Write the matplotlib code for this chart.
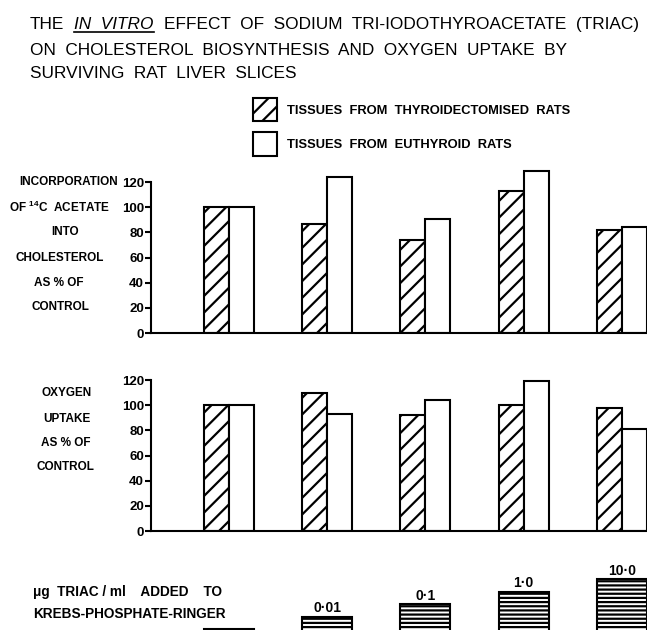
import numpy as np
import matplotlib
matplotlib.use('Agg')
import matplotlib.pyplot as plt
from matplotlib.lines import Line2D

plt.rcParams['font.family'] = ['Liberation Sans', 'DejaVu Sans']
plt.rcParams['hatch.linewidth'] = 1.6
plt.rcParams['mathtext.default'] = 'regular'

# datos
dosis = ['0', '0·01', '0·1', '1·0', '10·0']
dosis_etiquetas = ['', '0·01', '0·1', '1·0', '10·0']
dosis_altura = [1, 2, 3, 4, 5]
col_tiroidect = [100, 87, 74, 113, 82]
col_eutiroideo = [100, 124, 91, 129, 84]
oxi_tiroidect = [100, 110, 92, 100, 98]
oxi_eutiroideo = [100, 93, 104, 119, 81]
yticks = [0, 20, 40, 60, 80, 100, 120]
leyenda = ['TISSUES  FROM  THYROIDECTOMISED  RATS', 'TISSUES  FROM  EUTHYROID  RATS']

W, H = 647, 630
def fx(px):
    return px / W
def fy(py):
    return 1 - py / H

fig = plt.figure(figsize=(W / 100, H / 100), dpi=100)
x = np.arange(len(dosis))
bw = 0.254
lw = 1.5
pxu = 1.257  # pixeles por unidad en el eje y

def panel(base_px, v1, v2):
    ax = fig.add_axes([fx(151), fy(base_px), 1 - fx(151), 135 * pxu / H])
    ax.bar(x - bw / 2, v1, width=bw, facecolor='white', edgecolor='black',
           hatch='//', linewidth=lw, label=leyenda[0])
    ax.bar(x + bw / 2, v2, width=bw, facecolor='white', edgecolor='black',
           linewidth=lw, label=leyenda[1])
    ax.set_xlim(-0.79, 4.254)
    ax.set_ylim(0, 135)
    ax.spines['top'].set_visible(False)
    ax.spines['right'].set_visible(False)
    ax.spines['left'].set_bounds(0, 120)
    ax.spines['left'].set_linewidth(lw)
    ax.spines['bottom'].set_linewidth(lw)
    ax.set_xticks([])
    ax.set_yticks(yticks)
    ax.tick_params(axis='y', length=4, width=lw, pad=1, labelsize=9.5)
    for t in ax.get_yticklabels():
        t.set_fontweight('bold')
    ax.patch.set_alpha(0)
    return ax

ax1 = panel(333, col_tiroidect, col_eutiroideo)
ax2 = panel(531, oxi_tiroidect, oxi_eutiroideo)

# leyenda
ax1.legend(loc='upper left', bbox_to_anchor=(fx(253), fy(98)), bbox_transform=fig.transFigure,
           frameon=False, borderpad=0, borderaxespad=0, handlelength=1.88, handleheight=2.4,
           labelspacing=0.85, handletextpad=0.75, prop={'size': 9.3, 'weight': 'bold'})

# etiquetas de los ejes
lab1 = [('INCORPORATION', 69, 182), (r'OF $^{14}$C  ACETATE', 60, 207), ('INTO', 65, 232),
        ('CHOLESTEROL', 60, 258), ('AS % OF', 59, 283), ('CONTROL', 60, 307)]
lab2 = [('OXYGEN', 67, 393), ('UPTAKE', 67, 419), ('AS % OF', 66, 443), ('CONTROL', 65, 467)]
for txt, px, py in lab1 + lab2:
    fig.text(fx(px), fy(py), txt, ha='center', va='center', fontsize=8.5, fontweight='bold')

# barras de dosis
ax3 = fig.add_axes([fx(151), 0, 1 - fx(151), 70 / H])
barras = ax3.bar(x, dosis_altura, width=2 * bw, facecolor='white', edgecolor='black',
                 hatch='----', linewidth=lw)
ax3.set_xlim(-0.79, 4.254)
ax3.set_ylim(0.919, 6.565)
ax3.axis('off')
for b, et in zip(barras, dosis_etiquetas):
    ax3.annotate(et, (b.get_x() + b.get_width() / 2, b.get_height()), xytext=(0, 1),
                 textcoords='offset points', ha='center', va='bottom',
                 fontsize=10, fontweight='bold')

fig.text(fx(33), fy(592), 'μg  TRIAC / ml    ADDED    TO', ha='left', va='center',
         fontsize=9.8, fontweight='bold')
fig.text(fx(33), fy(614), 'KREBS-PHOSPHATE-RINGER', ha='left', va='center',
         fontsize=9.8, fontweight='bold')

# titulo
r = fig.canvas.get_renderer()
tfont = dict(fontsize=12.4)
partes = [('THE', 'normal'), ('IN  VITRO', 'italic'),
          ('EFFECT  OF  SODIUM  TRI-IODOTHYROACETATE  (TRIAC)', 'normal')]
xx = fx(30)
for txt, st in partes:
    t = fig.text(xx, fy(29), txt, ha='left', va='baseline', style=st, **tfont)
    bb = t.get_window_extent(renderer=r)
    if st == 'italic':
        fig.add_artist(Line2D([bb.x0 / W, bb.x1 / W], [fy(31.5), fy(31.5)],
                              transform=fig.transFigure, color='black', lw=1.2))
    xx = bb.x1 / W + fx(10)
fig.text(fx(30), fy(55), 'ON  CHOLESTEROL  BIOSYNTHESIS  AND  OXYGEN  UPTAKE  BY',
         ha='left', va='baseline', **tfont)
fig.text(fx(30), fy(78), 'SURVIVING  RAT  LIVER  SLICES', ha='left', va='baseline', **tfont)

fig.savefig('out.png', dpi=100)
